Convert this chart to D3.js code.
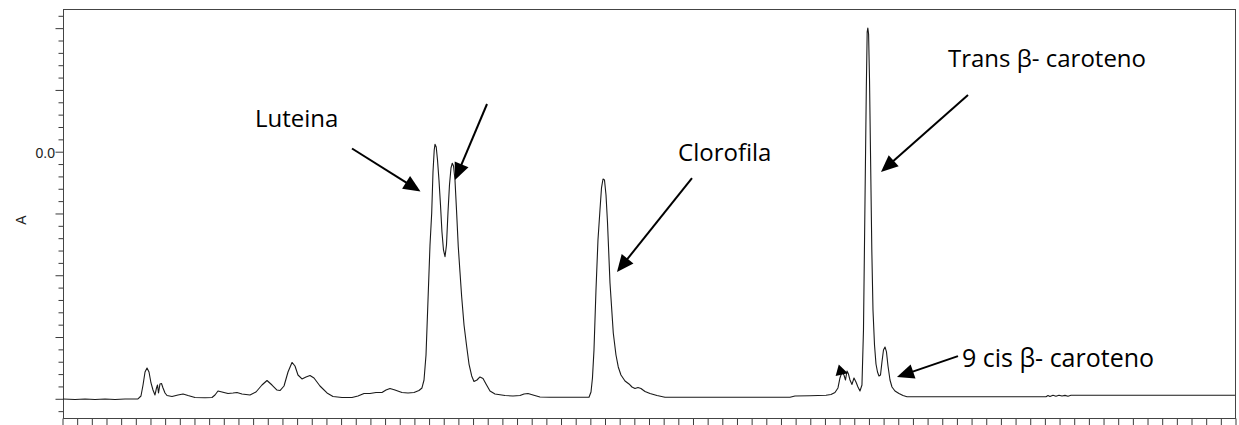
<!DOCTYPE html>
<html>
<head>
<meta charset="utf-8">
<script src="https://cdn.jsdelivr.net/npm/d3@7"></script>
<style>
  html, body { margin: 0; padding: 0; background: #fff; }
  svg { display: block; }
</style>
</head>
<body>
<svg id="chart" width="1239" height="425"></svg>
<script>
// ---- Data ----
// retention time (min)
const time = [
  0.01, 0.213, 0.384, 0.554, 0.725, 0.895, 1.066, 1.287, 1.338, 1.373,
  1.407, 1.441, 1.475, 1.509, 1.543, 1.577, 1.603, 1.620, 1.637, 1.662,
  1.688, 1.714, 1.748, 1.782, 1.867, 1.969, 2.055, 2.140, 2.259, 2.430,
  2.549, 2.600, 2.651, 2.719, 2.822, 2.907, 2.975, 3.060, 3.197, 3.299,
  3.401, 3.487, 3.572, 3.657, 3.708, 3.777, 3.845, 3.913, 3.964, 4.015,
  4.083, 4.152, 4.220, 4.288, 4.390, 4.510, 4.612, 4.765, 4.936, 5.038,
  5.141, 5.243, 5.345, 5.447, 5.516, 5.584, 5.669, 5.788, 5.891, 5.993,
  6.078, 6.129, 6.164, 6.198, 6.232, 6.266, 6.295, 6.317, 6.338, 6.351,
  6.372, 6.394, 6.419, 6.445, 6.470, 6.496, 6.522, 6.547, 6.573, 6.598,
  6.624, 6.646, 6.667, 6.692, 6.718, 6.748, 6.777, 6.806, 6.846, 6.892,
  6.931, 6.977, 7.016, 7.067, 7.118, 7.170, 7.221, 7.289, 7.374, 7.545,
  7.681, 7.800, 7.869, 7.937, 8.022, 8.141, 8.312, 8.653, 8.977, 9.011,
  9.036, 9.062, 9.096, 9.130, 9.164, 9.190, 9.216, 9.241, 9.267, 9.292,
  9.335, 9.391, 9.437, 9.476, 9.522, 9.591, 9.659, 9.710, 9.761, 9.812,
  9.863, 9.932, 10.017, 10.136, 10.273, 12.404, 12.489, 12.745, 13.018, 13.103,
  13.171, 13.222, 13.256, 13.290, 13.324, 13.350, 13.376, 13.401, 13.427, 13.461,
  13.495, 13.529, 13.563, 13.597, 13.631, 13.657, 13.683, 13.705, 13.720, 13.731,
  13.744, 13.760, 13.776, 13.799, 13.819, 13.845, 13.870, 13.896, 13.921, 13.947,
  13.972, 13.998, 14.024, 14.049, 14.075, 14.109, 14.143, 14.194, 14.262, 14.331,
  14.399, 16.769, 16.803, 16.837, 16.888, 16.939, 16.990, 17.042, 17.093, 17.144,
  17.195, 17.246, 19.991
];
// absorbance (AU)
const absorbance = [
  -0.4003, -0.4011, -0.4003, -0.4011, -0.4003, -0.4011, -0.4003, -0.4003, -0.3955, -0.3777,
  -0.3566, -0.3501, -0.3566, -0.3744, -0.3858, -0.3938, -0.3825, -0.3777, -0.3906, -0.3760,
  -0.3752, -0.3825, -0.3906, -0.3947, -0.3963, -0.3938, -0.3922, -0.3947, -0.3979, -0.3984,
  -0.3979, -0.3938, -0.3874, -0.3890, -0.3914, -0.3906, -0.3898, -0.3922, -0.3938, -0.3890,
  -0.3777, -0.3704, -0.3777, -0.3858, -0.3866, -0.3793, -0.3566, -0.3412, -0.3469, -0.3615,
  -0.3679, -0.3647, -0.3623, -0.3663, -0.3793, -0.3906, -0.3963, -0.3979, -0.3979, -0.3955,
  -0.3914, -0.3914, -0.3898, -0.3898, -0.3858, -0.3833, -0.3858, -0.3898, -0.3906, -0.3898,
  -0.3866, -0.3825, -0.3696, -0.3291, -0.2401, -0.1510, -0.0992, -0.0328, 0.0028, 0.0120,
  0.0076, -0.0134, -0.0458, -0.0863, -0.1300, -0.1591, -0.1700, -0.1510, -0.0976, -0.0539,
  -0.0264, -0.0187, -0.0231, -0.0458, -0.0944, -0.1538, -0.1947, -0.2347, -0.2805, -0.3157,
  -0.3437, -0.3631, -0.3720, -0.3696, -0.3647, -0.3671, -0.3760, -0.3874, -0.3922, -0.3947,
  -0.3955, -0.3947, -0.3922, -0.3914, -0.3938, -0.3971, -0.3976, -0.3976, -0.3976, -0.3890,
  -0.3663, -0.3210, -0.2239, -0.1429, -0.0944, -0.0587, -0.0442, -0.0458, -0.0701, -0.1138,
  -0.2125, -0.2935, -0.3291, -0.3485, -0.3615, -0.3712, -0.3760, -0.3809, -0.3833, -0.3817,
  -0.3833, -0.3882, -0.3914, -0.3947, -0.3976, -0.3976, -0.3955, -0.3951, -0.3942, -0.3930,
  -0.3898, -0.3825, -0.3663, -0.3566, -0.3615, -0.3696, -0.3550, -0.3599, -0.3696, -0.3768,
  -0.3663, -0.3728, -0.3809, -0.3874, -0.3777, -0.2886, -0.0782, 0.0999, 0.1938, 0.2003,
  0.1906, 0.1161, 0.0028, -0.1591, -0.2562, -0.3129, -0.3437, -0.3566, -0.3631, -0.3615,
  -0.3404, -0.3210, -0.3161, -0.3242, -0.3469, -0.3696, -0.3809, -0.3874, -0.3914, -0.3947,
  -0.3966, -0.3966, -0.3947, -0.3963, -0.3943, -0.3960, -0.3942, -0.3955, -0.3945, -0.3958,
  -0.3943, -0.3943, -0.3943
];

// axis ticks
const xTickValues = d3.range(0, 81).map(i => i * 0.25);      // minutes
const yTickValues = d3.range(-21, 12).map(i => i * 0.02);    // AU
const yTickLabels = ["0.0"];                                  // only label shown
const yAxisTitle = "A";

// annotations (label text, label anchor, arrow start, arrow tip) in data units
const annLabels   = ["Luteina", "", "Clorofila", "Trans \u03B2- caroteno", "9 cis \u03B2- caroteno"];
const annLabelT   = [3.282, null, 10.495, 15.098, 15.336];
const annLabelA   = [0.040, null, -0.0151, 0.1371, -0.3485];
const arrowFromT  = [4.936, 7.238, 10.733, 15.439, 15.268];
const arrowFromA  = [0.0052, 0.0772, -0.0426, 0.0918, -0.3310];
const arrowToT    = [6.104, 6.692, 9.454, 13.955, 14.228];
const arrowToA    = [-0.0644, -0.0458, -0.1948, -0.0329, -0.3647];
// stray arrow-head near the small peaks
const strayFromT = 13.14, strayFromA = -0.3520, strayToT = 13.39, strayToA = -0.3585;

// ---- Layout / style ----
const frame = { left: 63.5, right: 1235.5, top: 9.5, bottom: 418.5 };
const labelSizes = [24, 0, 24, 24, 25];
const svg = d3.select("#chart");

const x = d3.scaleLinear().domain([0, 20]).range([62.5, 1235.5]);
const y = d3.scaleLinear().domain([-0.4311, 0.2302]).range([418, 9.5]);

const isMajorY = v => Math.abs(Math.round(v * 50)) % 5 === 0;
const isMajorX = v => Math.abs(v - Math.round(v)) < 1e-6;

// Y axis ticks
const yAxisG = svg.append("g").attr("transform", `translate(${frame.left},0)`);
yAxisG.call(d3.axisLeft(y).tickValues(yTickValues).tickSize(0).tickFormat(""));
yAxisG.select(".domain").remove();
yAxisG.selectAll(".tick line")
  .attr("x1", 0)
  .attr("x2", d => isMajorY(d) ? -8 : -5)
  .attr("stroke", "#3a3a3a")
  .attr("stroke-width", 1);

// X axis ticks
const xAxisG = svg.append("g").attr("transform", `translate(0,${frame.bottom})`);
xAxisG.call(d3.axisBottom(x).tickValues(xTickValues).tickSize(0).tickFormat(""));
xAxisG.select(".domain").remove();
xAxisG.selectAll(".tick line")
  .attr("y1", 0)
  .attr("y2", d => isMajorX(d) ? 10 : 7)
  .attr("stroke", "#3a3a3a")
  .attr("stroke-width", 1);

// y tick label (0.0)
svg.append("text")
  .attr("x", 55)
  .attr("y", y(0) + 6)
  .attr("text-anchor", "end")
  .attr("font-family", "'Liberation Sans', Arial, sans-serif")
  .attr("font-size", 14)
  .attr("fill", "#222")
  .text(yTickLabels[0]);

// y axis title
svg.append("text")
  .attr("transform", "translate(26,220) rotate(-90)")
  .attr("text-anchor", "middle")
  .attr("font-family", "'Liberation Sans', Arial, sans-serif")
  .attr("font-size", 14)
  .attr("fill", "#222")
  .text(yAxisTitle);

// frame
svg.append("rect")
  .attr("x", frame.left).attr("y", frame.top)
  .attr("width", frame.right - frame.left)
  .attr("height", frame.bottom - frame.top)
  .attr("fill", "none")
  .attr("stroke", "#444")
  .attr("stroke-width", 1);

// signal
const pts = time.map((t, i) => [t, absorbance[i]]);
svg.append("path")
  .datum(pts)
  .attr("d", d3.line().x(d => x(d[0])).y(d => y(d[1])))
  .attr("fill", "none")
  .attr("stroke", "#1a1a1a")
  .attr("stroke-width", 1.1)
  .attr("stroke-linejoin", "round");

// arrows
function arrowHead(x1, y1, x2, y2, len, half) {
  const a = Math.atan2(y2 - y1, x2 - x1);
  const bx = x2 - len * Math.cos(a), by = y2 - len * Math.sin(a);
  const px = -Math.sin(a) * half, py = Math.cos(a) * half;
  return `M${x2},${y2}L${bx + px},${by + py}L${bx - px},${by - py}Z`;
}
const annG = svg.append("g");
annLabels.forEach((lab, i) => {
  const x1 = x(arrowFromT[i]), y1 = y(arrowFromA[i]);
  const x2 = x(arrowToT[i]), y2 = y(arrowToA[i]);
  const a = Math.atan2(y2 - y1, x2 - x1);
  annG.append("line")
    .attr("x1", x1).attr("y1", y1)
    .attr("x2", x2 - 12 * Math.cos(a)).attr("y2", y2 - 12 * Math.sin(a))
    .attr("stroke", "#000").attr("stroke-width", 2);
  annG.append("path")
    .attr("d", arrowHead(x1, y1, x2, y2, 17, 7.5))
    .attr("fill", "#000");
  if (lab) {
    annG.append("text")
      .attr("x", x(annLabelT[i])).attr("y", y(annLabelA[i]))
      .attr("font-family", "'Open Sans', Lato, sans-serif")
      .attr("font-size", labelSizes[i])
      .attr("fill", "#000")
      .text(lab);
  }
});
// stray arrow head
annG.append("path")
  .attr("d", arrowHead(x(strayFromT), y(strayFromA), x(strayToT), y(strayToA), 11, 6))
  .attr("fill", "#000");
</script>
</body>
</html>
